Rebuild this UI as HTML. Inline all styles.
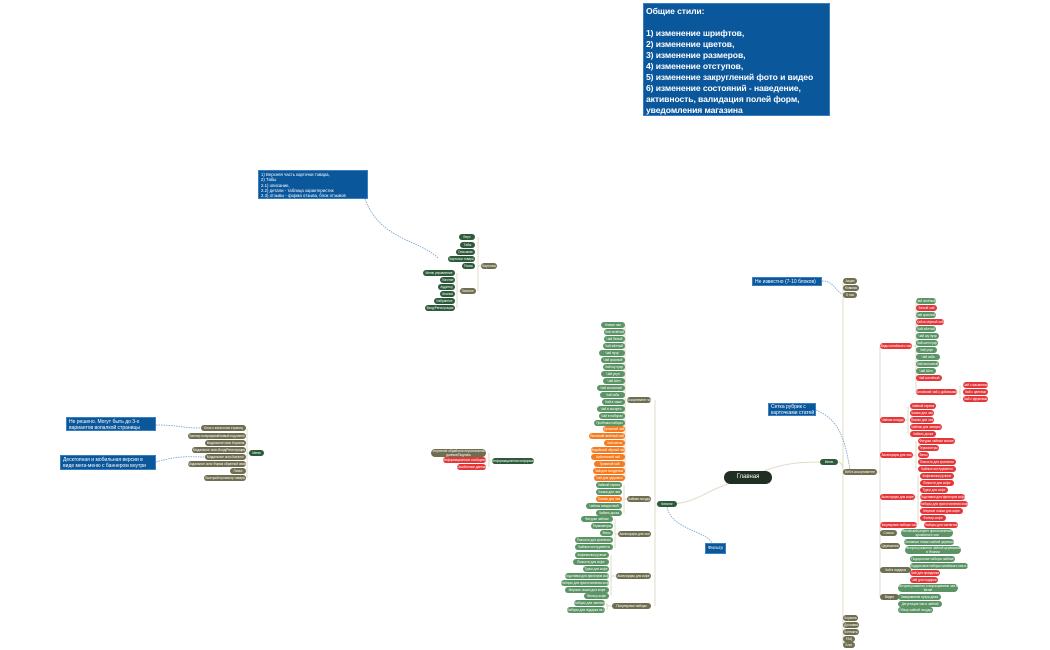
<!DOCTYPE html>
<html><head><meta charset="utf-8"><style>
body{margin:0;width:1050px;height:650px;background:#fff;position:relative;overflow:hidden;font-family:"Liberation Sans",sans-serif}
.p{position:absolute;height:6px;border-radius:3px;font-size:3.2px;line-height:6px;color:#fff;text-align:center;white-space:nowrap;overflow:hidden}
.g{background:#5b9566}.d{background:#2d5a3b}.o{background:#6f6e50}.r{background:#e3373a}.a{background:#f47b20}
.t{height:8px;line-height:4px;white-space:normal;border-radius:4px}
.b{position:absolute;background:#0b579c;color:#fff;border:1px solid #3a7fc0}
svg{position:absolute;left:0;top:0}
</style></head><body>
<svg width="1050" height="650" fill="none">
<g stroke="#e2dcc6" stroke-width="1">
<path d="M748 478 C780 462 800 462 829 462"/>
<path d="M748 478 C700 490 700 504 667 504"/>
<path d="M838 462 C842 462 843 466 843 472"/>
<path d="M843 281 V645"/>
<path d="M877 472 H880 M880 346 V597"/>
<path d="M913 346 H916 M916 301 V392"/>
<path d="M957 392 H960 M960 385 V399"/>
<path d="M905 420 H908 M908 406 V434"/>
<path d="M913 455 H916 M916 441 V469"/>
<path d="M915 497 H918 M918 476 V525"/>
<path d="M657 504 H655 M655 400 V606"/>
<path d="M627 400 H625 M625 325 V479"/>
<path d="M627 499 H624 M624 485 V513"/>
<path d="M618 534 H615 M615 519 V548"/>
<path d="M616 576 H611 M611 555 V596"/>
<path d="M612 606 H607 M607 603 V610"/>
<path d="M481 266 H478 M478 237 V291"/>
<path d="M460 291 H457 M457 273 V308"/>
<path d="M249 453 H247 M247 428 V478"/>
<path d="M492 461 H489 M489 453 V467"/>
</g>
<g stroke="#6a9fd0" stroke-width=".8" stroke-dasharray="1.5 1">
<path d="M365 199 C380 240 420 240 438 258"/>
<path d="M156 425 C180 425 180 428 200 428"/>
<path d="M156 462 C180 455 190 457 205 457"/>
<path d="M667 507 C672 530 705 530 712 543"/>
<path d="M816 410 C840 420 845 440 850 470"/>
<path d="M822 281 C835 281 835 292 843 294"/>
</g>
</svg>

<div class="b" style="left:643px;top:3px;width:187px;height:113px;font-size:8.6px;font-weight:bold;line-height:11px;padding:2px 0 0 2px;box-sizing:border-box;letter-spacing:-0.1px">Общие стили:<br><br>1) изменение шрифтов,<br>2) изменение цветов,<br>3) изменение размеров,<br>4) изменение отступов,<br>5) изменение закруглений фото и видео<br>6) изменение состояний - наведение, активность, валидация полей форм, уведомления магазина</div>

<div class="b" style="left:258px;top:170px;width:110px;height:29px;font-size:4.3px;line-height:5.3px;padding:1px 2px;box-sizing:border-box">1) Верхняя часть карточки товара,<br>2) Табы<br>2.1) описание,<br>2.2) детали - таблица характеристик<br>2.3) отзывы - форма отзыва, блок отзывов</div>
<div class="b" style="left:66px;top:417px;width:90px;height:14px;font-size:5px;line-height:6px;padding:1px 2px;box-sizing:border-box">Не решено. Могут быть до 3-х вариантов вопалкой страницы</div>
<div class="b" style="left:60px;top:455px;width:96px;height:15px;font-size:5px;line-height:6px;padding:1px 2px;box-sizing:border-box">Десктопная и мобильная версии в виде мега-меню с баннером внутри</div>
<div class="b" style="left:752px;top:277px;width:70px;height:9px;font-size:5px;line-height:8px;padding-left:2px;box-sizing:border-box">Не известно (7-10 блоков)</div>
<div class="b" style="left:768px;top:403px;width:48px;height:13px;font-size:5px;line-height:6px;padding-left:2px;box-sizing:border-box">Сетка рубрик с карточками статей</div>
<div class="b" style="left:705px;top:543px;width:19px;height:9px;font-size:4.5px;line-height:8px;text-align:center">Фильтр</div>

<div class="p" style="left:724px;top:471px;width:48px;height:13px;border-radius:7px;background:#1f2f22;font-size:6px;line-height:13px">Главная</div>
<div class="p d" style="left:657px;top:501px;width:20px">Каталог</div>
<div class="p d" style="left:820px;top:459px;width:18px">Меню</div>
<div class="p o" style="left:843px;top:469px;width:34px">Веб в ассортименте</div>

<div class="p o" style="left:627px;top:397px;width:24px">Ассортимент чай</div>
<div class="p g" style="left:601px;top:322px;width:24px">Новые чаи</div>
<div class="p g" style="left:604px;top:329px;width:21px">Чай зелёный</div>
<div class="p g" style="left:604px;top:336px;width:21px">Чай белый</div>
<div class="p g" style="left:603px;top:343px;width:22px">Чай жёлтый</div>
<div class="p g" style="left:599px;top:350px;width:26px">Чай пуэр</div>
<div class="p g" style="left:601px;top:357px;width:24px">Чай красный</div>
<div class="p g" style="left:603px;top:364px;width:22px">Чай шу пуэр</div>
<div class="p g" style="left:601px;top:371px;width:24px">Чай улун</div>
<div class="p g" style="left:603px;top:378px;width:22px">Чай Шен</div>
<div class="p g" style="left:597px;top:385px;width:28px">Чай молочный</div>
<div class="p g" style="left:600px;top:392px;width:25px">Чай габа</div>
<div class="p g" style="left:602px;top:399px;width:23px">Чай в чаше</div>
<div class="p g" style="left:597px;top:406px;width:28px">Чай в ассорти</div>
<div class="p g" style="left:599px;top:413px;width:26px">Чай в наборах</div>
<div class="p g" style="left:594px;top:420px;width:31px">Пробники наборы</div>
<div class="p a" style="left:603px;top:426px;width:22px">Кухонный чай</div>
<div class="p a" style="left:589px;top:433px;width:36px">Японский зелёный чай</div>
<div class="p a" style="left:604px;top:440px;width:21px">Чай матча</div>
<div class="p a" style="left:591px;top:447px;width:34px">Индийский чёрный чай</div>
<div class="p a" style="left:591px;top:454px;width:34px">Цейлонский чай</div>
<div class="p a" style="left:594px;top:461px;width:31px">Травяной чай</div>
<div class="p a" style="left:593px;top:468px;width:32px">Чай для похудения</div>
<div class="p a" style="left:594px;top:475px;width:31px">Чай для здоровья</div>
<div class="p o" style="left:627px;top:496px;width:24px">Чайная посуда</div>
<div class="p g" style="left:596px;top:482px;width:26px">Чайный сервиз</div>
<div class="p g" style="left:596px;top:489px;width:26px">Чашки для чая</div>
<div class="p a" style="left:596px;top:496px;width:26px">Пиалы для чая</div>
<div class="p g" style="left:586px;top:503px;width:36px">Чайник заварочный</div>
<div class="p g" style="left:596px;top:510px;width:26px">Чабань доска</div>
<div class="p o" style="left:618px;top:531px;width:33px">Аксессуары для чая</div>
<div class="p g" style="left:581px;top:516px;width:32px">Фигурки чайные</div>
<div class="p g" style="left:591px;top:523px;width:22px">Термометры</div>
<div class="p g" style="left:600px;top:530px;width:13px">Весы</div>
<div class="p g" style="left:575px;top:537px;width:38px">Ёмкости для хранения</div>
<div class="p g" style="left:575px;top:544px;width:38px">Чайные инструменты</div>
<div class="p o" style="left:616px;top:573px;width:35px">Аксессуары для кофе</div>
<div class="p g" style="left:575px;top:552px;width:34px">Кофемолки ручные</div>
<div class="p g" style="left:573px;top:559px;width:36px">Ёмкости для кофе</div>
<div class="p g" style="left:583px;top:566px;width:26px">Турки для кофе</div>
<div class="p g" style="left:565px;top:573px;width:44px">Подставки для фильтров кофе</div>
<div class="p g" style="left:561px;top:580px;width:48px">Наборы для приготовления кофе</div>
<div class="p g" style="left:565px;top:587px;width:44px">Мерные ложки для кофе</div>
<div class="p g" style="left:584px;top:593px;width:25px">Фильтр-кофе</div>
<div class="p o" style="left:612px;top:603px;width:39px">Популярные наборы</div>
<div class="p g" style="left:574px;top:600px;width:31px">Наборы для чаепития</div>
<div class="p g" style="left:567px;top:607px;width:38px">Наборы для подарка на чай</div>

<div class="p o" style="left:843px;top:278px;width:14px">Акции</div>
<div class="p o" style="left:843px;top:285px;width:16px">Новинки</div>
<div class="p o" style="left:843px;top:292px;width:14px">О нас</div>
<div class="p o" style="left:843px;top:615px;width:15px">Корзина</div>
<div class="p o" style="left:843px;top:622px;width:16px">Доставка</div>
<div class="p o" style="left:843px;top:629px;width:16px">Контакты</div>
<div class="p o" style="left:843px;top:636px;width:12px">FAQ</div>
<div class="p o" style="left:843px;top:642px;width:12px">Блог</div>

<div class="p r" style="left:880px;top:343px;width:32px">Виды китайского чая</div>
<div class="p g" style="left:916px;top:298px;width:20px">Чай зелёный</div>
<div class="p r" style="left:916px;top:305px;width:21px">Белый чай</div>
<div class="p g" style="left:916px;top:312px;width:20px">Чай красный</div>
<div class="p r" style="left:916px;top:319px;width:28px">Хэйча чёрный чай</div>
<div class="p g" style="left:916px;top:326px;width:20px">Чай жёлтый</div>
<div class="p g" style="left:916px;top:333px;width:23px">Чай шу пуэр</div>
<div class="p g" style="left:916px;top:340px;width:22px">Чай шен пуэр</div>
<div class="p g" style="left:916px;top:347px;width:21px">Чай улун</div>
<div class="p g" style="left:916px;top:354px;width:24px">Чай габа</div>
<div class="p g" style="left:916px;top:361px;width:23px">Чай молочный</div>
<div class="p g" style="left:916px;top:368px;width:20px">Чай Шен</div>
<div class="p r" style="left:916px;top:375px;width:26px">Чай копчёный</div>
<div class="p r" style="left:916px;top:389px;width:41px">Китайский чай с добавками</div>
<div class="p r" style="left:963px;top:382px;width:25px">Чай с жасмином</div>
<div class="p r" style="left:963px;top:389px;width:25px">Чай с цветами</div>
<div class="p r" style="left:963px;top:396px;width:25px">Чай с фруктами</div>
<div class="p r" style="left:880px;top:417px;width:25px">Чайная посуда</div>
<div class="p r" style="left:910px;top:403px;width:26px">Чайный сервиз</div>
<div class="p r" style="left:910px;top:410px;width:24px">Чашки для чая</div>
<div class="p r" style="left:910px;top:417px;width:24px">Пиалы для чая</div>
<div class="p r" style="left:910px;top:424px;width:32px">Чайник для заварки</div>
<div class="p r" style="left:910px;top:431px;width:26px">Чабань доска</div>
<div class="p r" style="left:880px;top:452px;width:33px">Аксессуары для чая</div>
<div class="p r" style="left:918px;top:438px;width:37px">Фигурки чайные малые</div>
<div class="p r" style="left:918px;top:445px;width:21px">Термометры</div>
<div class="p r" style="left:918px;top:452px;width:11px">Весы</div>
<div class="p r" style="left:918px;top:459px;width:38px">Ёмкости для хранения</div>
<div class="p r" style="left:918px;top:466px;width:38px">Чайные инструменты</div>
<div class="p r" style="left:880px;top:494px;width:35px">Аксессуары для кофе</div>
<div class="p r" style="left:920px;top:473px;width:34px">Кофемолки ручные</div>
<div class="p r" style="left:920px;top:480px;width:34px">Ёмкости для кофе</div>
<div class="p r" style="left:920px;top:487px;width:28px">Турки для кофе</div>
<div class="p r" style="left:920px;top:494px;width:45px">Подставки для фильтров кофе</div>
<div class="p r" style="left:920px;top:501px;width:48px">Наборы для приготовления кофе</div>
<div class="p r" style="left:920px;top:508px;width:43px">Мерные ложки для кофе</div>
<div class="p r" style="left:920px;top:515px;width:26px">Фильтр-кофе</div>
<div class="p r" style="left:880px;top:522px;width:37px">Популярные наборы чая</div>
<div class="p r" style="left:924px;top:522px;width:34px">Наборы для чаепития</div>
<div class="p o" style="left:880px;top:530px;width:17px">Статьи</div>
<div class="p g t" style="left:901px;top:529px;width:52px">Китайский рецепт приготовления ароматного чая</div>
<div class="p o" style="left:880px;top:543px;width:20px">Церемония</div>
<div class="p g" style="left:904px;top:539px;width:50px">Основные этапы чайной церемонии</div>
<div class="p g t" style="left:905px;top:546px;width:56px">История развития чайной церемонии в Японии</div>
<div class="p o" style="left:880px;top:567px;width:31px">Чай в подарок</div>
<div class="p g" style="left:910px;top:556px;width:45px">Подарочные наборы чайные</div>
<div class="p g" style="left:910px;top:563px;width:58px">Подарочные наборы китайского чая в коробке</div>
<div class="p r" style="left:910px;top:570px;width:30px">Чай для праздника</div>
<div class="p r" style="left:910px;top:577px;width:28px">Чай для подарка</div>
<div class="p o" style="left:880px;top:594px;width:19px">Видео</div>
<div class="p g t" style="left:898px;top:584px;width:60px">История развития и выращивания чая в Китае</div>
<div class="p g" style="left:898px;top:594px;width:43px">Заваривание пуэра дома</div>
<div class="p g" style="left:898px;top:601px;width:44px">Дегустация чая в чайной</div>
<div class="p g" style="left:898px;top:607px;width:35px">Обзор чайной посуды</div>

<div class="p o" style="left:481px;top:263px;width:16px">Карточка</div>
<div class="p d" style="left:459px;top:234px;width:16px">Верх</div>
<div class="p d" style="left:460px;top:242px;width:15px">Табы</div>
<div class="p d" style="left:456px;top:249px;width:19px">Описание</div>
<div class="p d" style="left:448px;top:256px;width:27px">Карточка товара</div>
<div class="p d" style="left:462px;top:263px;width:13px">Поиск</div>
<div class="p o" style="left:460px;top:288px;width:16px">Каталог</div>
<div class="p d" style="left:423px;top:270px;width:32px">Меню управление</div>
<div class="p d" style="left:440px;top:277px;width:15px">Логотип</div>
<div class="p d" style="left:438px;top:284px;width:17px">Аудитор</div>
<div class="p d" style="left:440px;top:291px;width:15px">Анализ</div>
<div class="p d" style="left:434px;top:298px;width:21px">Избранное</div>
<div class="p d" style="left:425px;top:305px;width:30px">Вход/Регистрация</div>

<div class="p d" style="left:249px;top:450px;width:15px">Меню</div>
<div class="p o" style="left:201px;top:425px;width:45px">Блок с каталогом страниц</div>
<div class="p o" style="left:188px;top:433px;width:58px">Баннер популярный/новый под меню</div>
<div class="p o" style="left:205px;top:440px;width:41px">Модальное окно Корзина</div>
<div class="p o" style="left:192px;top:447px;width:54px">Модальное окно Вход/Регистрация</div>
<div class="p o" style="left:205px;top:454px;width:41px">Модальное окно Каталог</div>
<div class="p o" style="left:188px;top:461px;width:58px">Модальное окно Форма обратной связи</div>
<div class="p o" style="left:230px;top:468px;width:16px">Поиск</div>
<div class="p o" style="left:204px;top:475px;width:42px">Быстрый просмотр товара</div>

<div class="p o t" style="left:431px;top:449px;width:55px">Получение обработки персональных данных/Подпись</div>
<div class="p r" style="left:443px;top:457px;width:43px">Информационные сообщения</div>
<div class="p r" style="left:457px;top:464px;width:29px">Ошибочные данные</div>
<div class="p d" style="left:492px;top:458px;width:42px">Информационная информация</div>
</body></html>
